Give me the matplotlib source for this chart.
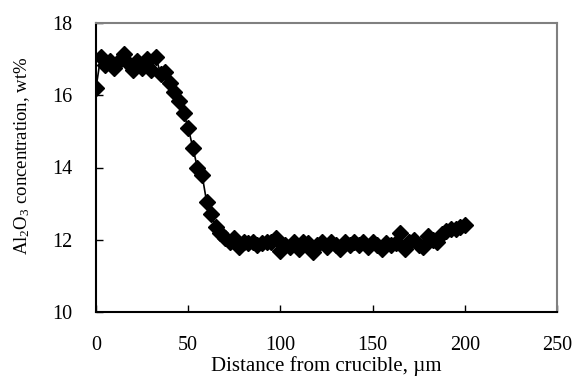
import matplotlib
matplotlib.use("Agg")
import matplotlib.pyplot as plt

distance = [0, 2.5, 5, 7.5, 10, 12.5, 15, 17.5, 20, 22.5, 25, 27.5, 30, 32.5, 35, 37.5,
            40, 42.5, 45, 47.5, 50, 52.5, 55, 57.5, 60, 62.5, 65, 67.5, 70, 72.5, 75, 77.5,
            80, 82.5, 85, 87.5, 90, 92.5, 95, 97.5, 100, 102.5, 105, 107.5, 110, 112.5, 115,
            117.5, 120, 122.5, 125, 127.5, 130, 132.5, 135, 137.5, 140, 142.5, 145, 147.5,
            150, 152.5, 155, 157.5, 160, 162.5, 165, 167.5, 170, 172.5, 175, 177.5, 180,
            182.5, 185, 187.5, 190, 192.5, 195, 197.5, 200]
al2o3 = [16.2, 17.05, 16.85, 16.95, 16.75, 16.95, 17.15, 16.9, 16.7, 16.95, 16.75, 17.0,
         16.7, 17.05, 16.6, 16.65, 16.35, 16.1, 15.85, 15.5, 15.1, 14.55, 14.0, 13.8, 13.05,
         12.7, 12.35, 12.2, 12.05, 11.95, 12.05, 11.8, 11.95, 11.9, 11.95, 11.85, 11.9,
         11.95, 11.95, 12.05, 11.7, 11.85, 11.8, 11.95, 11.75, 11.95, 11.9, 11.65, 11.85,
         11.95, 11.8, 11.95, 11.85, 11.75, 11.95, 11.85, 11.95, 11.85, 11.95, 11.8, 11.95,
         11.85, 11.75, 11.9, 11.85, 11.9, 12.2, 11.75, 11.95, 12.0, 11.85, 11.8, 12.1, 12.0,
         11.95, 12.15, 12.25, 12.3, 12.3, 12.35, 12.4]
xticks = [0, 50, 100, 150, 200, 250]
yticks = [10, 12, 14, 16, 18]

plt.rcParams['font.family'] = ['Liberation Serif', 'DejaVu Serif']
plt.rcParams['mathtext.fontset'] = 'custom'
plt.rcParams['mathtext.rm'] = 'Liberation Serif'
plt.rcParams['mathtext.it'] = 'Liberation Serif:italic'

fig = plt.figure(figsize=(5.76, 3.76), dpi=100)
ax = fig.add_axes([96/576, 1 - 312/376, (557-96)/576, (312-23)/376])
ax.plot(distance, al2o3, color='black', lw=1.2, marker='D', markersize=8.5,
        markerfacecolor='black', markeredgecolor='black')
ax.set_xlim(0, 250)
ax.set_ylim(10, 18)
ax.set_xticks(xticks)
ax.set_yticks(yticks)
ax.tick_params(axis='both', direction='in', length=5, width=1, labelsize=14.5)
ax.tick_params(axis='x', pad=17)
ax.tick_params(axis='y', pad=17)
for s in ['top', 'right']:
    ax.spines[s].set_color('#808080')
    ax.spines[s].set_linewidth(1.5)
for s in ['left', 'bottom']:
    ax.spines[s].set_color('black')
    ax.spines[s].set_linewidth(1.5)
ax.set_xlabel('Distance from crucible, µm', fontsize=15, labelpad=1)
ax.set_ylabel('Al$_2$O$_3$ concentration, wt%', fontsize=13.5)
ax.yaxis.set_label_coords(-0.138, 0.54)
fig.savefig('out.png', dpi=100)
